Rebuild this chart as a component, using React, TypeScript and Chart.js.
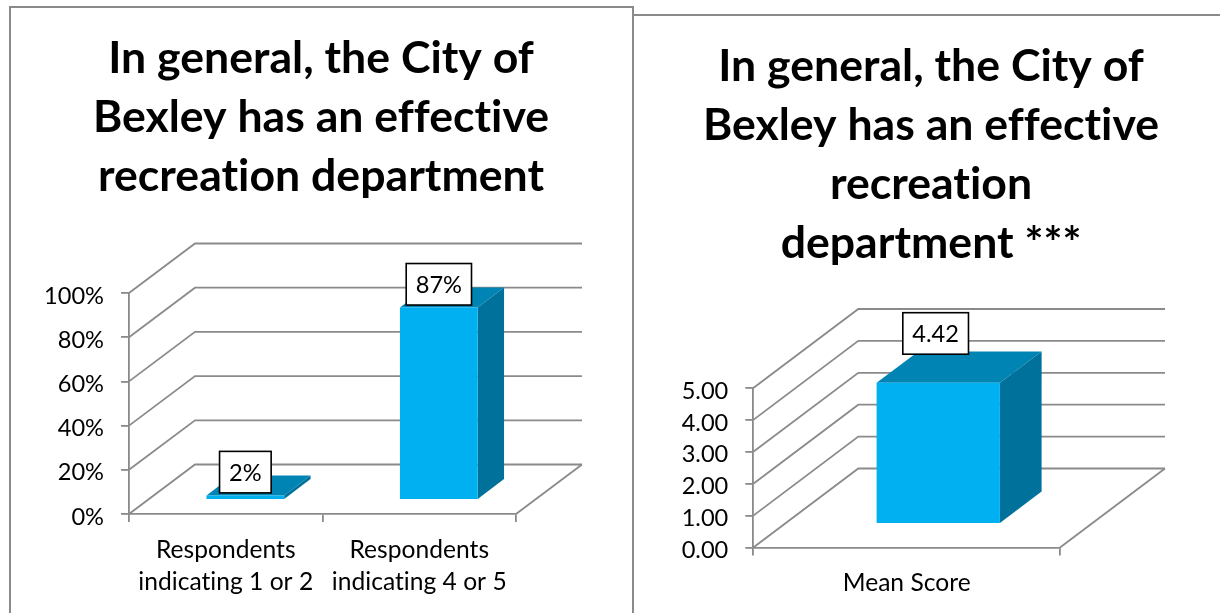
import React, { useEffect, useRef } from "react";
import { Chart, registerables } from "chart.js";

Chart.register(...registerables);

const leftTitle = ["In general, the City of", "Bexley has an effective", "recreation department"];
const leftCategories = [["Respondents", "indicating 1 or 2"], ["Respondents", "indicating 4 or 5"]];
const leftValues = [2, 87];
const leftLabels = ["2%", "87%"];

const rightTitle = ["In general, the City of", "Bexley has an effective", "recreation", "department ***"];
const rightCategories = ["Mean Score"];
const rightValues = [4.42];
const rightLabels = ["4.42"];

const FONT = "Lato";
const GREY = "#8a8a8a";
const FRONT = "#00B0F0";
const TOP = "#0084B4";
const SIDE = "#00719B";

type Cfg = {
  left: number; width: number; title: string[]; categories: any[]; values: number[]; labels: string[];
  max: number; step: number; fmt: (v: number) => string;
  plotL: number; plotR: number; plotT: number; plotB: number;
  titleTop: number;
  wallDx: number; wallDy: number; shiftX: number; shiftY: number; depthX: number; depthY: number;
  labelGap: number; labelDx: number; labelH: number; labelPad: number; xPad: number;
};

const makePlugin = (c: Cfg) => ({
  id: "fake3d",
  beforeDraw(chart: any) {
    (chart.ctx as any).letterSpacing = "0.01px";
  },
  beforeDatasetsDraw(chart: any) {
    const { ctx, scales } = chart;
    const y = scales.y, x = scales.x;
    ctx.save();
    ctx.strokeStyle = GREY;
    ctx.lineWidth = 1.8;
    const L = x.left, R = x.right;
    y.ticks.forEach((t: any) => {
      const py = y.getPixelForValue(t.value);
      ctx.beginPath();
      ctx.moveTo(L, py);
      ctx.lineTo(L + c.wallDx, py - c.wallDy);
      ctx.lineTo(R + c.wallDx, py - c.wallDy);
      ctx.stroke();
    });
    const by = y.getPixelForValue(0);
    ctx.beginPath();
    ctx.moveTo(R, by);
    ctx.lineTo(R + c.wallDx, by - c.wallDy);
    ctx.stroke();
    ctx.restore();
    ctx.save();
    ctx.translate(c.shiftX, -c.shiftY);
    const meta = chart.getDatasetMeta(0);
    meta.data.forEach((b: any) => {
      const hw = b.width / 2;
      const l = b.x - hw, r = b.x + hw, t = b.y, bt = b.base;
      ctx.fillStyle = TOP;
      ctx.beginPath();
      ctx.moveTo(l, t);
      ctx.lineTo(l + c.depthX, t - c.depthY);
      ctx.lineTo(r + c.depthX, t - c.depthY);
      ctx.lineTo(r, t);
      ctx.closePath();
      ctx.fill();
      ctx.fillStyle = SIDE;
      ctx.beginPath();
      ctx.moveTo(r, t);
      ctx.lineTo(r + c.depthX, t - c.depthY);
      ctx.lineTo(r + c.depthX, bt - c.depthY);
      ctx.lineTo(r, bt);
      ctx.closePath();
      ctx.fill();
    });
  },
  afterDatasetsDraw(chart: any) {
    const { ctx } = chart;
    ctx.restore();
    const meta = chart.getDatasetMeta(0);
    ctx.save();
    ctx.font = `23.6px ${FONT}`;
    ctx.textAlign = "center";
    ctx.textBaseline = "middle";
    meta.data.forEach((b: any, i: number) => {
      const text = c.labels[i];
      const cx = b.x + c.shiftX + c.labelDx;
      const bottom = b.y - c.shiftY - c.labelGap;
      const w = ctx.measureText(text).width + c.labelPad * 2;
      const h = c.labelH;
      ctx.fillStyle = "#fff";
      ctx.fillRect(cx - w / 2, bottom - h, w, h);
      ctx.strokeStyle = "#000";
      ctx.lineWidth = 1.6;
      ctx.strokeRect(cx - w / 2, bottom - h, w, h);
      ctx.fillStyle = "#000";
      ctx.fillText(text, cx, bottom - h / 2 + 1);
    });
    ctx.restore();
  },
});

function Panel({ cfg }: { cfg: Cfg }) {
  const ref = useRef<HTMLCanvasElement>(null);
  useEffect(() => {
    const c = cfg;
    const lh = 59;
    const titleH = c.title.length * lh;
    const chart = new Chart(ref.current as any, {
      type: "bar",
      data: {
        labels: c.categories,
        datasets: [{
          data: c.values, backgroundColor: FRONT, borderWidth: 0,
          barPercentage: 0.402, categoryPercentage: 1, clip: false,
        } as any],
      },
      options: {
        responsive: false,
        animation: false,
        layout: { padding: 0 },
        plugins: {
          legend: { display: false },
          tooltip: { enabled: false },
          title: {
            display: true,
            text: c.title,
            color: "#000",
            font: { family: FONT, size: 44.6, weight: "bold", lineHeight: `${lh}px` },
            padding: { top: c.titleTop, bottom: c.plotT - c.titleTop - titleH },
          },
        },
        scales: {
          x: {
            grid: { drawOnChartArea: false, color: GREY, lineWidth: 1.8, tickLength: 8 },
            border: { color: GREY, width: 1.8 },
            ticks: {
              color: "#000", padding: c.xPad, maxRotation: 0, autoSkip: false,
              font: { family: FONT, size: 24.6, lineHeight: "32px" },
            },
            afterFit: (s: any) => { s.height = 613 - c.plotB; },
          },
          y: {
            min: 0, max: c.max,
            grid: { drawOnChartArea: false, color: GREY, lineWidth: 1.8, tickLength: 8 },
            border: { color: GREY, width: 1.8 },
            ticks: {
              stepSize: c.step, color: "#000", padding: 17, labelOffset: 3,
              font: { family: FONT, size: 23.6 },
              callback: (v: any) => c.fmt(Number(v)),
            },
            afterFit: (s: any) => { s.width = c.plotL; },
          },
          spacer: {
            type: "linear", position: "right",
            grid: { display: false }, border: { display: false }, ticks: { display: false },
            afterFit: (s: any) => { s.width = c.width - c.plotR; },
          },
        },
      } as any,
      plugins: [makePlugin(c) as any],
    });
    return () => chart.destroy();
  }, [cfg]);
  return (
    <canvas
      ref={ref}
      width={cfg.width}
      height={613}
      style={{ position: "absolute", left: cfg.left, top: 0, width: cfg.width, height: 613, display: "block" }}
    />
  );
}

const leftCfg: Cfg = {
  left: 0, width: 642, title: leftTitle, categories: leftCategories, values: leftValues, labels: leftLabels,
  max: 100, step: 20, fmt: (v) => `${v}%`,
  plotL: 129, plotR: 516, plotT: 293, plotB: 514, titleTop: 29.5,
  wallDx: 66, wallDy: 49.5, shiftX: 19.6, shiftY: 14.2, depthX: 26.3, depthY: 20,
  labelGap: 2.5, labelDx: 0, labelH: 41.5, labelPad: 9.5, xPad: 12,
};

const rightCfg: Cfg = {
  left: 642, width: 578, title: rightTitle, categories: rightCategories, values: rightValues, labels: rightLabels,
  max: 5, step: 1, fmt: (v) => v.toFixed(2),
  plotL: 111.3, plotR: 418, plotT: 388, plotB: 547.5, titleTop: 37.5,
  wallDx: 105, wallDy: 79, shiftX: 31.6, shiftY: 23.7, depthX: 41.7, depthY: 31.3,
  labelGap: 28.6, labelDx: -2.6, labelH: 41.5, labelPad: 9.5, xPad: 12,
};

const line = (left: number, top: number, width: number, height: number): React.CSSProperties => ({
  position: "absolute", left, top, width, height, background: GREY,
});

export default function App() {
  return (
    <div style={{ position: "absolute", left: 0, top: 0, width: 1220, height: 613, overflow: "hidden", background: "#fff" }}>
      <Panel cfg={leftCfg} />
      <Panel cfg={rightCfg} />
      <div style={line(8.5, 6, 625, 2)} />
      <div style={line(8.5, 6, 2, 607)} />
      <div style={line(632, 6, 2, 607)} />
      <div style={line(634, 14, 586, 2)} />
    </div>
  );
}
